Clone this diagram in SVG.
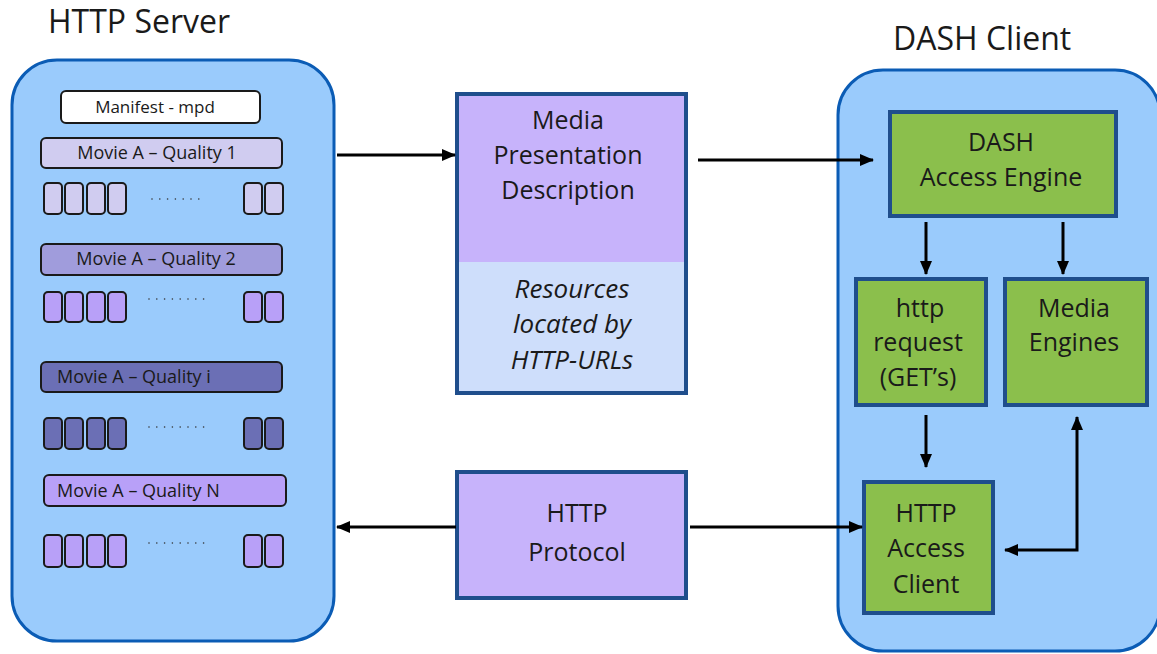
<svg xmlns="http://www.w3.org/2000/svg" width="1157" height="654" viewBox="0 0 1157 654">
  <style>
    text { font-family: "Open Sans", "Liberation Sans", sans-serif; fill: #1a1a1a; }
    .title { font-size: 32px; }
    .big { font-size: 25px; text-anchor: middle; }
    .ital { font-style: italic; font-size: 26px; }
    .lbl { font-size: 18px; }
    .container { fill: #9acbfc; stroke: #0b5cb5; stroke-width: 3; }
    .box { stroke: #1f4e8c; stroke-width: 4; }
    .green { fill: #8bbf4c; }
    .lav { fill: #c7b3fb; }
    .bar { stroke: #1a1a1a; stroke-width: 2; }
    .seg { stroke: #1a1a1a; stroke-width: 2; }
    .dots { stroke: #333; stroke-width: 1.6; stroke-linecap: round; stroke-dasharray: 0 7.8; fill: none; }
    .q1 { fill: #d0ccf0; }
    .q2 { fill: #a09cdc; }
    .qi { fill: #6b6fb5; }
    .qn { fill: #b8a0f8; }
    .conn { stroke: #000; stroke-width: 3; fill: none; }
  </style>
  <defs>
    <marker id="arrow" viewBox="0 0 14 12" refX="13" refY="6" markerWidth="14" markerHeight="12" markerUnits="userSpaceOnUse" orient="auto-start-reverse">
      <path d="M0,0 L14,6 L0,12 z" fill="#000"/>
    </marker>
  </defs>

  <!-- HTTP server side -->
  <g id="http-server">
    <rect class="container" x="12" y="60" width="322" height="581" rx="45"/>
    <text class="title" x="48" y="33">HTTP Server</text>

    <rect x="61" y="91" width="199" height="32" rx="5" fill="#fff" class="bar"/>
    <text x="155" y="113" text-anchor="middle" font-size="17">Manifest - mpd</text>

    <!-- quality 1 -->
    <rect class="bar q1" x="41" y="138" width="241" height="30" rx="5"/>
    <text class="lbl" x="157" y="159" text-anchor="middle">Movie A – Quality 1</text>
    <g class="seg q1">
      <rect x="44" y="183" width="18" height="31" rx="4"/>
      <rect x="65" y="183" width="18" height="31" rx="4"/>
      <rect x="87" y="183" width="18" height="31" rx="4"/>
      <rect x="108" y="183" width="18" height="31" rx="4"/>
      <rect x="244" y="183" width="18" height="31" rx="4"/>
      <rect x="265" y="183" width="18" height="31" rx="4"/>
    </g>
    <line class="dots" x1="152" y1="199" x2="200" y2="199"/>

    <!-- quality 2 -->
    <rect class="bar q2" x="41" y="244" width="241" height="31" rx="5"/>
    <text class="lbl" x="156" y="265" text-anchor="middle">Movie A – Quality 2</text>
    <g class="seg qn">
      <rect x="44" y="292" width="18" height="30" rx="4"/>
      <rect x="65" y="292" width="18" height="30" rx="4"/>
      <rect x="87" y="292" width="18" height="30" rx="4"/>
      <rect x="108" y="292" width="18" height="30" rx="4"/>
      <rect x="244" y="292" width="18" height="30" rx="4"/>
      <rect x="265" y="292" width="18" height="30" rx="4"/>
    </g>
    <line class="dots" x1="149" y1="299" x2="204" y2="299"/>

    <!-- quality i -->
    <rect class="bar qi" x="41" y="362" width="241" height="30" rx="5"/>
    <text class="lbl" x="57" y="383">Movie A – Quality i</text>
    <g class="seg qi">
      <rect x="44" y="418" width="18" height="31" rx="4"/>
      <rect x="65" y="418" width="18" height="31" rx="4"/>
      <rect x="87" y="418" width="18" height="31" rx="4"/>
      <rect x="108" y="418" width="18" height="31" rx="4"/>
      <rect x="244" y="418" width="18" height="31" rx="4"/>
      <rect x="265" y="418" width="18" height="31" rx="4"/>
    </g>
    <line class="dots" x1="149" y1="427" x2="204" y2="427"/>

    <!-- quality N -->
    <rect class="bar qn" x="44" y="475" width="242" height="31" rx="5"/>
    <text class="lbl" x="57" y="497">Movie A – Quality N</text>
    <g class="seg qn">
      <rect x="44" y="535" width="18" height="32" rx="4"/>
      <rect x="65" y="535" width="18" height="32" rx="4"/>
      <rect x="87" y="535" width="18" height="32" rx="4"/>
      <rect x="108" y="535" width="18" height="32" rx="4"/>
      <rect x="244" y="535" width="18" height="32" rx="4"/>
      <rect x="265" y="535" width="18" height="32" rx="4"/>
    </g>
    <line class="dots" x1="149" y1="543" x2="204" y2="543"/>
  </g>

  <!-- media presentation description -->
  <g id="mpd">
    <rect x="457" y="94" width="229" height="168" class="lav"/>
    <rect x="457" y="262" width="229" height="131" fill="#cedefb"/>
    <rect x="457" y="94" width="229" height="299" fill="none" class="box"/>
    <text class="big" x="568" y="129">Media</text>
    <text class="big" x="568" y="164">Presentation</text>
    <text class="big" x="568" y="199">Description</text>
    <text class="big ital" x="572" y="298">Resources</text>
    <text class="big ital" x="572" y="333">located by</text>
    <text class="big ital" x="572" y="369">HTTP-URLs</text>
  </g>

  <!-- HTTP protocol -->
  <g id="http-protocol">
    <rect x="457" y="472" width="229" height="126" class="box lav"/>
    <text class="big" x="577" y="522">HTTP</text>
    <text class="big" x="577" y="561">Protocol</text>
  </g>

  <!-- DASH client side -->
  <g id="dash-client">
    <rect class="container" x="838" y="70" width="322" height="581" rx="45"/>
    <text class="title" x="893" y="50">DASH Client</text>
  </g>

  <g id="dash-access-engine">
    <rect x="890" y="112" width="226" height="104" class="box green"/>
    <text class="big" x="1001" y="151">DASH</text>
    <text class="big" x="1001" y="186">Access Engine</text>
  </g>

  <g id="http-request">
    <rect x="856" y="279" width="130" height="126" class="box green"/>
    <text class="big" x="920" y="317">http</text>
    <text class="big" x="918" y="351">request</text>
    <text class="big" x="918" y="386">(GET’s)</text>
  </g>

  <g id="media-engines">
    <rect x="1005" y="279" width="142" height="126" class="box green"/>
    <text class="big" x="1074" y="317">Media</text>
    <text class="big" x="1074" y="351">Engines</text>
  </g>

  <g id="http-access-client">
    <rect x="864" y="482" width="129" height="131" class="box green"/>
    <text class="big" x="926" y="522">HTTP</text>
    <text class="big" x="926" y="557">Access</text>
    <text class="big" x="926" y="593">Client</text>
  </g>

  <!-- connectors -->
  <g id="connectors">
    <line class="conn" x1="337" y1="155" x2="455" y2="155" marker-end="url(#arrow)"/>
    <line class="conn" x1="698" y1="160" x2="873" y2="160" marker-end="url(#arrow)"/>
    <line class="conn" x1="926" y1="222" x2="926" y2="274" marker-end="url(#arrow)"/>
    <line class="conn" x1="1063" y1="222" x2="1063" y2="274" marker-end="url(#arrow)"/>
    <line class="conn" x1="926" y1="415" x2="926" y2="467" marker-end="url(#arrow)"/>
    <line class="conn" x1="690" y1="527" x2="862" y2="527" marker-end="url(#arrow)"/>
    <line class="conn" x1="456" y1="527" x2="337" y2="527" marker-end="url(#arrow)"/>
    <path class="conn" d="M1077,417 L1077,550 L1005,550" marker-start="url(#arrow)" marker-end="url(#arrow)"/>
  </g>
</svg>
